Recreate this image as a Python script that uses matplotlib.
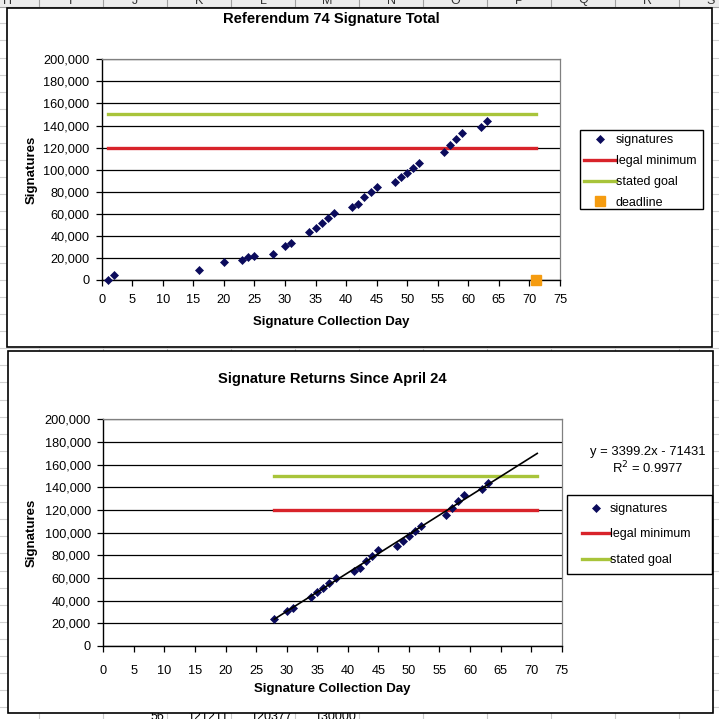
import matplotlib
matplotlib.use("Agg")
import matplotlib.pyplot as plt
from matplotlib.patches import Rectangle
import numpy as np

plt.rcParams['font.family'] = ['Liberation Sans', 'DejaVu Sans']

# signature totals
days = [1, 2, 16, 20, 23, 24, 25, 28, 30, 31, 34, 35, 36, 37, 38, 41, 42, 43, 44, 45,
        48, 49, 50, 51, 52, 56, 57, 58, 59, 62, 63]
signatures = [0, 4500, 9000, 16000, 17800, 20800, 21500, 23600, 30500, 33200, 43200,
              47400, 51400, 55900, 60400, 65900, 68600, 74900, 79500, 84300, 88500,
              93000, 97300, 101200, 105700, 115700, 122000, 127500, 132900, 138400, 144100]
legal_minimum = 120000
stated_goal = 150000
deadline_day = 71
first_day = 1
returns_start = 28
slope, intercept, r2 = 3399.2, -71431, 0.9977

col_letters = ['H', 'I', 'J', 'K', 'L', 'M', 'N', 'O', 'P', 'Q', 'R', 'S']
cell_texts = ['56', '121211', '120377', '130000']

W = H = 719
fig = plt.figure(figsize=(W / 100, H / 100), dpi=100)

def box(x0, y0, x1, y1):
    return [x0 / W, 1 - y1 / H, (x1 - x0) / W, (y1 - y0) / H]

def fx(x):
    return x / W

def fy(y):
    return 1 - y / H

# spreadsheet behind the charts
bg = fig.add_axes([0, 0, 1, 1], zorder=-10)
bg.set_xlim(0, W)
bg.set_ylim(H, 0)
bg.axis('off')
for k in range(12):
    bg.axvline(39 + 64 * k, color='#c8c8c8', lw=0.8, zorder=1)
for k in range(43):
    bg.axhline(6.2 + 17.1 * k, color='#d0d0d0', lw=0.8, zorder=1)
bg.add_patch(Rectangle((0, 0), W, 6.5, facecolor='#ececec', edgecolor='none', zorder=2))
bg.axhline(6.5, color='#a0a0a0', lw=0.8, zorder=3)
for k in range(12):
    bg.axvline(39 + 64 * k, ymin=1 - 6.5 / H, color='#a0a0a0', lw=0.8, zorder=3)
for k, c in enumerate(col_letters):
    bg.text(7 + 64 * k, 0.5, c, ha='center', va='center', fontsize=9, color='#333333', zorder=4)
for k, t in enumerate(cell_texts):
    bg.text(164 + 64 * k, 717, t, ha='right', va='center', fontsize=9, zorder=4)
bg.add_patch(Rectangle((6.5, 7.5), 705, 339.5, facecolor='white', edgecolor='black', lw=1.2, zorder=5))
bg.add_patch(Rectangle((7.5, 351), 705.5, 361.5, facecolor='white', edgecolor='black', lw=1.2, zorder=5))
# legend frames
bg.add_patch(Rectangle((580, 130), 123, 79, facecolor='white', edgecolor='black', lw=1, zorder=6))
bg.add_patch(Rectangle((567, 495), 145, 79, facecolor='white', edgecolor='black', lw=1, zorder=6))

red = '#d8232a'
green = '#a8c43a'
navy = '#0b0b5c'
orange = '#f59c10'


def style_axes(ax, xpad, ypad):
    ax.set_xlim(0, 75)
    ax.set_ylim(0, 200000)
    ax.set_xticks(range(0, 76, 5))
    ax.set_yticks(range(0, 200001, 20000))
    ax.yaxis.set_major_formatter(matplotlib.ticker.StrMethodFormatter('{x:,.0f}'))
    ax.grid(axis='y', color='black', lw=0.9)
    ax.set_axisbelow(True)
    ax.tick_params(direction='out', length=4, width=0.9, labelsize=9.2)
    ax.tick_params(axis='x', pad=xpad)
    ax.tick_params(axis='y', pad=ypad)
    for s in ['top', 'right']:
        ax.spines[s].set_color('#808080')
        ax.spines[s].set_linewidth(0.9)
    for s in ['left', 'bottom']:
        ax.spines[s].set_linewidth(1)
    ax.set_xlabel('Signature Collection Day', fontsize=9.5, fontweight='bold')
    ax.set_ylabel('Signatures', fontsize=9.5, fontweight='bold')


# top chart
ax1 = fig.add_axes(box(101.7, 59.3, 560, 280))
style_axes(ax1, 6.0, 4.8)
ax1.plot([first_day, deadline_day], [legal_minimum] * 2, color=red, lw=2.4, label='legal minimum', zorder=3)
ax1.plot([first_day, deadline_day], [stated_goal] * 2, color=green, lw=2.4, label='stated goal', zorder=3)
ax1.plot(days, signatures, 'D', color=navy, ms=4.2, mew=0.5, label='signatures', zorder=4, clip_on=False)
ax1.plot([deadline_day], [0], 's', color=orange, ms=7, label='deadline', zorder=4, clip_on=False)
ax1.set_title('Referendum 74 Signature Total', fontsize=10.6, fontweight='bold', pad=0, y=1 + 36 / 220.7)
ax1.xaxis.set_label_coords(0.5, -36 / 220.7)
ax1.yaxis.set_label_coords(-(101.7 - 38) / 458.3, 0.5)
h, l = ax1.get_legend_handles_labels()
order = [2, 0, 1, 3]
ax1.legend([h[i] for i in order], [l[i] for i in order], loc='upper left',
           bbox_to_anchor=(fx(584), fy(134.5)), bbox_transform=fig.transFigure,
           fontsize=9, frameon=False, handlelength=2.56, handletextpad=0.0,
           labelspacing=0.7, borderpad=0, borderaxespad=0)

# bottom chart
ax2 = fig.add_axes(box(103.3, 419.3, 561.7, 646))
style_axes(ax2, 10.0, 5.0)
rd = [d for d in days if d >= returns_start]
rs = [s for d, s in zip(days, signatures) if d >= returns_start]
ax2.plot([returns_start, deadline_day], [legal_minimum] * 2, color=red, lw=2.4, label='legal minimum', zorder=3)
ax2.plot([returns_start, deadline_day], [stated_goal] * 2, color=green, lw=2.4, label='stated goal', zorder=3)
ax2.plot(rd, rs, 'D', color=navy, ms=4.2, mew=0.5, label='signatures', zorder=4)
tx = np.array([returns_start, deadline_day])
ax2.plot(tx, slope * tx + intercept, color='black', lw=1.2, zorder=5)
ax2.set_title('Signature Returns Since April 24', fontsize=10.6, fontweight='bold', pad=0, y=1 + 36.3 / 226.7)
ax2.xaxis.set_label_coords(0.5, -37 / 226.7)
ax2.yaxis.set_label_coords(-(103.3 - 38) / 458.4, 0.5)
h, l = ax2.get_legend_handles_labels()
order = [2, 0, 1]
ax2.legend([h[i] for i in order], [l[i] for i in order], loc='upper left',
           bbox_to_anchor=(fx(582), fy(503)), bbox_transform=fig.transFigure,
           fontsize=9, frameon=False, handlelength=2.24, handletextpad=0.0,
           labelspacing=1.08, borderpad=0, borderaxespad=0)
fig.text(fx(648), fy(452), f'y = {slope}x - {abs(intercept)}', ha='center', va='center', fontsize=9.4)
fig.text(fx(648), fy(468), f'R$^2$ = {r2}', ha='center', va='center', fontsize=9.4)

fig.savefig('out.png', dpi=100)
